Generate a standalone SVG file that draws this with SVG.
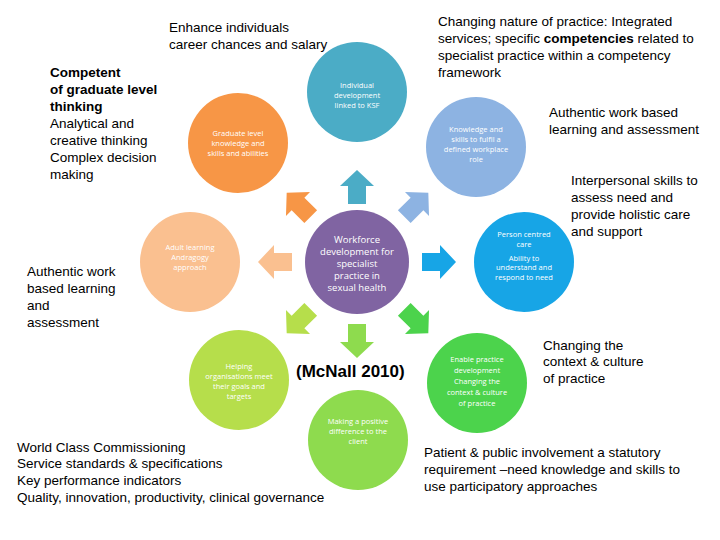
<svg xmlns="http://www.w3.org/2000/svg" width="720" height="540" viewBox="0 0 720 540">
<style>
.t{font-family:"Liberation Sans",Arial,sans-serif;font-size:13.5px;fill:#000}
.s{font-family:"Open Sans","Liberation Sans",sans-serif;font-size:7.5px;fill:#fff;text-anchor:middle}
</style>
<defs>
<path id="arr" d="M-9,18 L-9,0 L-17,0 L0,-16 L17,0 L9,0 L9,18 Z"/>
</defs>
<rect width="720" height="540" fill="#fff"/>
<g id="connectors">
<use href="#arr" transform="translate(357,186)" fill="#4BACC6"/>
<use href="#arr" transform="translate(274,262) rotate(-90)" fill="#FAC090"/>
<use href="#arr" transform="translate(440,262) rotate(90)" fill="#17A5E6"/>
<use href="#arr" transform="translate(357,342) rotate(180)" fill="#8EDB4E"/>
<use href="#arr" transform="translate(298,204) rotate(-45)" fill="#F79646"/>
<use href="#arr" transform="translate(417,204) rotate(45)" fill="#8DB3E2"/>
<use href="#arr" transform="translate(298,322) rotate(-135)" fill="#B6DE4B"/>
<use href="#arr" transform="translate(417,322) rotate(135)" fill="#4CD34C"/>
</g>
<g id="center"><circle cx="357" cy="262" r="52" fill="#8064A2"/>
<text class="s" style="font-size:9.5px"><tspan x="357" y="243">Workforce</tspan><tspan x="357" y="255">development for</tspan><tspan x="357" y="267">specialist</tspan><tspan x="357" y="279">practice in</tspan><tspan x="357" y="291">sexual health</tspan></text></g>
<g id="top"><circle cx="357" cy="92" r="50" fill="#4BACC6"/>
<text class="s"><tspan x="357" y="88">Individual</tspan><tspan x="357" y="98">development</tspan><tspan x="357" y="108">linked to KSF</tspan></text></g>
<g id="tl"><circle cx="238" cy="143" r="50" fill="#F79646"/>
<text class="s"><tspan x="238" y="136">Graduate level</tspan><tspan x="238" y="146">knowledge and</tspan><tspan x="238" y="156">skills and abilities</tspan></text></g>
<g id="tr"><circle cx="476" cy="147" r="50" fill="#8DB3E2"/>
<text class="s"><tspan x="476" y="132">Knowledge and</tspan><tspan x="476" y="142">skills to fulfil a</tspan><tspan x="476" y="152">defined workplace</tspan><tspan x="476" y="162">role</tspan></text></g>
<g id="l"><circle cx="190" cy="262" r="50" fill="#FAC090"/>
<text class="s"><tspan x="190" y="250">Adult learning</tspan><tspan x="190" y="260">Andragogy</tspan><tspan x="190" y="270">approach</tspan></text></g>
<g id="r"><circle cx="524" cy="262" r="50" fill="#17A5E6"/>
<text class="s"><tspan x="524" y="237">Person centred</tspan><tspan x="524" y="247">care</tspan><tspan x="524" y="261">Ability to</tspan><tspan x="524" y="270">understand and</tspan><tspan x="524" y="280">respond to need</tspan></text></g>
<g id="bl"><circle cx="239" cy="380" r="50" fill="#B6DE4B"/>
<text class="s"><tspan x="239" y="369">Helping</tspan><tspan x="239" y="379">organisations meet</tspan><tspan x="239" y="389">their goals and</tspan><tspan x="239" y="399">targets</tspan></text></g>
<g id="b"><circle cx="358" cy="440" r="50" fill="#8EDB4E"/>
<text class="s"><tspan x="358" y="424">Making a positive</tspan><tspan x="358" y="434">difference to the</tspan><tspan x="358" y="444">client</tspan></text></g>
<g id="br"><circle cx="477" cy="383" r="50" fill="#4CD34C"/>
<text class="s"><tspan x="477" y="362">Enable practice</tspan><tspan x="477" y="373">development</tspan><tspan x="477" y="384">Changing the</tspan><tspan x="477" y="395">context &amp; culture</tspan><tspan x="477" y="406">of practice</tspan></text></g>
<g id="labels">
<text class="t"><tspan x="169" y="32">Enhance individuals</tspan><tspan x="169" y="49">career chances and salary</tspan></text>
<text class="t"><tspan x="50" y="77" font-weight="bold">Competent</tspan><tspan x="50" y="94" font-weight="bold">of graduate level</tspan><tspan x="50" y="111" font-weight="bold">thinking</tspan><tspan x="50" y="128">Analytical and</tspan><tspan x="50" y="145">creative thinking</tspan><tspan x="50" y="162">Complex decision</tspan><tspan x="50" y="179">making</tspan></text>
<text class="t"><tspan x="438" y="26">Changing  nature of practice: Integrated</tspan><tspan x="438" y="43">services; specific <tspan font-weight="bold">competencies</tspan> related to</tspan><tspan x="438" y="60">specialist practice within a competency</tspan><tspan x="438" y="77">framework</tspan></text>
<text class="t"><tspan x="549" y="117">Authentic  work based</tspan><tspan x="549" y="134">learning and assessment</tspan></text>
<text class="t"><tspan x="571" y="185">Interpersonal skills to</tspan><tspan x="571" y="202">assess need and</tspan><tspan x="571" y="219">provide holistic care</tspan><tspan x="571" y="236">and support</tspan></text>
<text class="t"><tspan x="27" y="276">Authentic  work</tspan><tspan x="27" y="293">based learning</tspan><tspan x="27" y="310">and</tspan><tspan x="27" y="327">assessment</tspan></text>
<text class="t"><tspan x="543" y="350">Changing the</tspan><tspan x="543" y="366">context &amp; culture</tspan><tspan x="543" y="383">of practice</tspan></text>
<text class="t" x="296" y="377" style="font-size:17px;font-weight:bold">(McNall  2010)</text>
<text class="t"><tspan x="17" y="452">World Class  Commissioning</tspan><tspan x="17" y="468">Service standards &amp; specifications</tspan><tspan x="17" y="485">Key performance indicators</tspan><tspan x="17" y="502">Quality, innovation, productivity, clinical governance</tspan></text>
<text class="t"><tspan x="424" y="457">Patient &amp; public involvement a statutory</tspan><tspan x="424" y="474">requirement –need knowledge and skills to</tspan><tspan x="424" y="491">use participatory approaches</tspan></text>
</g>
</svg>
